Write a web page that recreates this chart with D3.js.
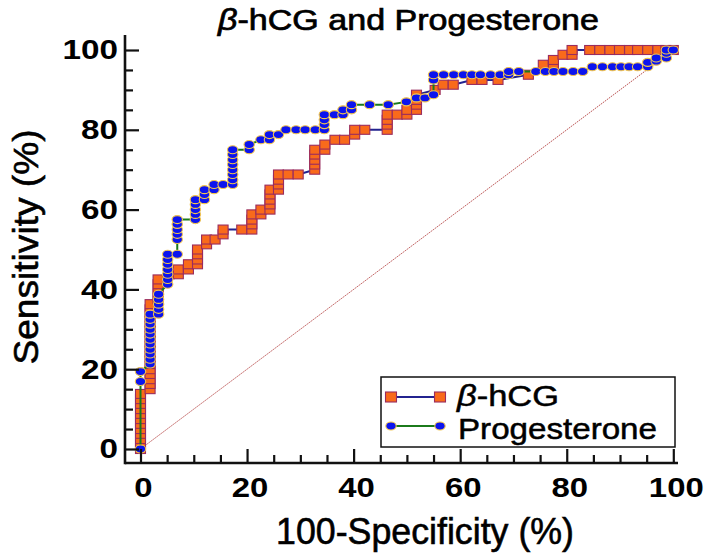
<!DOCTYPE html>
<html><head><meta charset="utf-8">
<script src="https://cdn.jsdelivr.net/npm/d3@7"></script>
<style>
body{margin:0;background:#fff}
svg{display:block}
text{font-family:"Liberation Sans",Arial,Helvetica,sans-serif;fill:#000}
</style>
</head><body>
<svg id="chart" width="714" height="555"></svg>
<script>
// ---- data ----
const hcgFPR = [0,0,0,0,0,0,0,0,0,0,0,0,
  1.8,1.8,1.8,1.8,1.8,1.8,1.8,1.8,1.8,1.8,1.8,1.8,1.8,1.8,1.8,1.8,1.8,1.8,
  3.3,3.3,3.3,3.3,3.3,
  5.4,7.1,7.1,9,9,10.7,10.7,10.7,10.7,12.4,12.4,14,15.5,15.5,19,20.9,20.9,20.9,20.9,22.6,22.6,
  24.3,24.3,24.3,24.3,24.3,25.9,25.9,25.9,25.9,27.7,29.6,32.7,32.7,32.7,32.7,32.7,34.6,34.6,
  36.5,38.3,40.2,40.2,42.1,46.3,46.3,46.3,46.3,48.2,50,50,51.8,51.8,51.8,51.8,55.3,56.8,58.7,
  62.2,64.1,67.1,72.8,75.6,77.5,77.5,79.3,81,81,84.3,86.2,88.1,89.9,91.8,93.3,95.2,97.1,98.6,100];
const hcgSens = [0,1.3,2.5,3.8,5,6.3,7.5,8.8,10,11.3,12.5,13.8,
  15,16.3,17.5,18.8,20,21.3,22.5,23.8,25,26.3,27.5,28.8,30,31.3,32.5,33.8,35,36.3,
  37.5,38.8,40,41.3,42.5,
  43.8,43.8,45,45,46.3,46.3,47.5,48.8,50,51.3,52.5,52.5,53.8,55,55,55,56.3,57.5,58.8,58.8,60,
  60,61.3,62.5,63.8,65,65,66.3,67.5,68.8,68.8,68.8,70,71.3,72.5,73.8,75,75,76.3,
  77.5,77.5,78.8,80,80,80,81.3,82.5,83.8,83.8,83.8,85,85,86.3,87.5,88.8,90,91.3,91.3,
  92.5,92.5,92.5,93.8,96.3,96.3,97.5,98.8,98.8,100,100,100,100,100,100,100,100,100,100,100];

const progFPR = [0,0,0,
  1.8,1.8,1.8,1.8,1.8,1.8,1.8,1.8,1.8,1.8,1.8,
  3.4,3.4,3.4,3.4,3.4,
  5.1,5.1,5.1,5.1,5.1,5.1,5.1,
  6.9,6.9,6.9,6.9,6.9,6.9,
  10.3,10.3,10.3,10.3,10.3,12,12,12,13.8,13.8,15.5,
  17.3,17.3,17.3,17.3,17.3,17.3,17.3,17.3,
  20.4,20.4,22.6,24.2,24.2,25.9,27.3,29.2,30.9,32.8,
  34.5,34.5,34.5,34.5,36.4,38,38,39.6,39.6,43,46.5,49.9,51.8,53.4,55,55,55,
  56.9,58.8,60.6,62.2,63.8,65.7,67.5,69.1,69.1,71,74.2,76,77.6,79.3,81.2,83,
  84.8,86.7,88.6,90.2,91.7,93.3,95.2,95.2,96.8,96.8,98.7,98.7,98.7,100];
const progSens = [0,16.9,19.4,
  21.3,22.5,23.8,25,26.3,27.5,28.8,30,31.3,32.5,33.8,
  33.8,35,36.3,37.5,38.8,
  41.3,42.5,43.8,45,46.3,47.5,48.8,
  48.8,52.5,53.8,55,56.3,57.5,
  57.5,58.8,60,61.3,62.5,62.5,63.8,65,65,66.3,66.3,
  66.3,67.5,68.8,70,71.3,72.5,73.8,75,
  75,76.3,77.5,77.5,78.8,78.8,80,80,80,80,
  80,81.3,82.5,83.8,83.8,83.8,85,85,86.3,86.3,86.3,87,88,88,88.8,92.5,93.8,
  93.8,93.8,93.8,93.8,93.8,93.8,93.8,93.8,94.6,94.6,94.6,94.6,94.6,94.6,94.6,94.6,
  95.8,95.8,95.8,95.8,95.8,95.8,95.8,96.9,97.2,98,98,99.2,100,100];

const seriesNames = ["β-hCG", "Progesterone"];
const xTicks = [0,20,40,60,80,100];
const yTicks = [0,20,40,60,80,100];
const minorTicks = [5,10,15,25,30,35,45,50,55,65,70,75,85,90,95];
const titleText = ["β", "-hCG and Progesterone"];
const xTitle = "100-Specificity (%)";
const yTitle = "Sensitivity (%)";

// ---- drawing ----
const svg = d3.select("#chart");
const x = d3.scaleLinear().domain([0,100]).range([140.5,673.3]);
const y = d3.scaleLinear().domain([0,100]).range([449,50]);

const C = {
  sqFill:"#f96a1b", sqStroke:"#9a2c5e", hcgLine:"#23238f",
  ciFill:"#0c14ee", ciStroke:"#f2c54e", progLine:"#1b7a1b",
  diag:"#b84a4a"
};

function fit(sel, w){ sel.attr("textLength", w).attr("lengthAdjust","spacingAndGlyphs"); }
function heavy(sel, w){ sel.attr("stroke","#000").attr("stroke-width", w).attr("paint-order","stroke"); }

// diagonal reference
svg.append("line")
  .attr("x1", x(0)).attr("y1", y(0)).attr("x2", x(100)).attr("y2", y(100))
  .attr("stroke", C.diag).attr("stroke-width", 1).attr("stroke-dasharray","1.5,1");

const hcg = hcgFPR.map((d,i)=>[d,hcgSens[i]]);
const prog = progFPR.map((d,i)=>[d,progSens[i]]);
const line = d3.line().x(d=>x(d[0])).y(d=>y(d[1]));

// hCG series
svg.append("path").datum(hcg).attr("d", line).attr("fill","none")
  .attr("stroke", C.hcgLine).attr("stroke-width", 2);
svg.append("g").selectAll("rect").data(hcg).join("rect")
  .attr("x", d=>x(d[0])-5).attr("y", d=>y(d[1])-4.5)
  .attr("width",10).attr("height",9)
  .attr("fill", C.sqFill).attr("stroke", C.sqStroke).attr("stroke-width",1.1);

// Progesterone series
svg.append("path").datum(prog).attr("d", line).attr("fill","none")
  .attr("stroke", C.progLine).attr("stroke-width", 2);
svg.append("g").selectAll("ellipse").data(prog).join("ellipse")
  .attr("cx", d=>x(d[0])).attr("cy", d=>y(d[1]))
  .attr("rx",5.2).attr("ry",4)
  .attr("fill", C.ciFill).attr("stroke", C.ciStroke).attr("stroke-width",1.1);

// axes
const axisY0 = 463, axisX0 = 125;
const gx = svg.append("g").attr("transform", `translate(0,${axisY0})`)
  .call(d3.axisBottom(x).tickValues(xTicks).tickSizeInner(-14).tickSizeOuter(0).tickPadding(14));
const gxm = svg.append("g").attr("transform", `translate(0,${axisY0})`)
  .call(d3.axisBottom(x).tickValues(minorTicks).tickSizeInner(-8).tickSizeOuter(0).tickFormat(""));
const gy = svg.append("g").attr("transform", `translate(${axisX0},0)`)
  .call(d3.axisLeft(y).tickValues(yTicks).tickSizeInner(-14).tickSizeOuter(0).tickPadding(7));
const gym = svg.append("g").attr("transform", `translate(${axisX0},0)`)
  .call(d3.axisLeft(y).tickValues(minorTicks).tickSizeInner(-8).tickSizeOuter(0).tickFormat(""));
[gx,gxm,gy,gym].forEach(g=>{
  g.select(".domain").remove();
  g.selectAll(".tick line").attr("stroke","#111").attr("stroke-width",2.2);
});
gx.selectAll(".tick text").attr("font-size",28).attr("font-weight","bold")
  .attr("font-family","Liberation Sans, Arial, sans-serif").attr("fill","#000")
  .attr("dx", 2.5)
  .each(function(d){ fit(d3.select(this), String(d).length*18.3); });
gy.selectAll(".tick text").attr("font-size",28).attr("font-weight","bold")
  .attr("font-family","Liberation Sans, Arial, sans-serif").attr("fill","#000")
  .each(function(d){ fit(d3.select(this), String(d).length*18.5); });

svg.append("line").attr("x1",axisX0).attr("x2",678).attr("y1",axisY0).attr("y2",axisY0)
  .attr("stroke","#111").attr("stroke-width",2.6);
svg.append("line").attr("x1",axisX0).attr("x2",axisX0).attr("y1",35).attr("y2",axisY0+1.3)
  .attr("stroke","#111").attr("stroke-width",2.6);

// title
const t = svg.append("text").attr("x",218).attr("y",30).attr("font-size",29);
t.append("tspan").attr("font-style","italic").text(titleText[0]);
t.append("tspan").text(titleText[1]);
fit(t, 381); heavy(t, 0.7);

// axis titles
const xt = svg.append("text").attr("x",425).attr("y",544).attr("text-anchor","middle")
  .attr("font-size",37).text(xTitle);
fit(xt, 298); heavy(xt, 0.6);
const yt = svg.append("text").attr("transform","translate(38,247) rotate(-90)").attr("text-anchor","middle")
  .attr("font-size",35).text(yTitle);
fit(yt, 235); heavy(yt, 0.6);

// legend
const lg = svg.append("g");
lg.append("rect").attr("x",381).attr("y",377).attr("width",294).attr("height",70)
  .attr("fill","#fff").attr("stroke","#111").attr("stroke-width",1.5);
const r1 = 397, r2 = 426;
lg.append("line").attr("x1",391).attr("x2",440).attr("y1",r1).attr("y2",r1)
  .attr("stroke",C.hcgLine).attr("stroke-width",2);
[391,440].forEach(cx=>lg.append("rect").attr("x",cx-5.5).attr("y",r1-5).attr("width",11).attr("height",10)
  .attr("fill",C.sqFill).attr("stroke",C.sqStroke).attr("stroke-width",1.1));
lg.append("line").attr("x1",391).attr("x2",440).attr("y1",r2).attr("y2",r2)
  .attr("stroke",C.progLine).attr("stroke-width",2);
[391,440].forEach(cx=>lg.append("ellipse").attr("cx",cx).attr("cy",r2).attr("rx",5.2).attr("ry",4)
  .attr("fill",C.ciFill).attr("stroke",C.ciStroke).attr("stroke-width",1.1));
const l1 = lg.append("text").attr("x",457).attr("y",406).attr("font-size",29);
l1.append("tspan").attr("font-style","italic").text("β");
l1.append("tspan").text(seriesNames[0].slice(1));
fit(l1, 102); heavy(l1, 0.5);
const l2 = lg.append("text").attr("x",458).attr("y",439).attr("font-size",29).text(seriesNames[1]);
fit(l2, 199); heavy(l2, 0.5);
</script>
</body></html>
